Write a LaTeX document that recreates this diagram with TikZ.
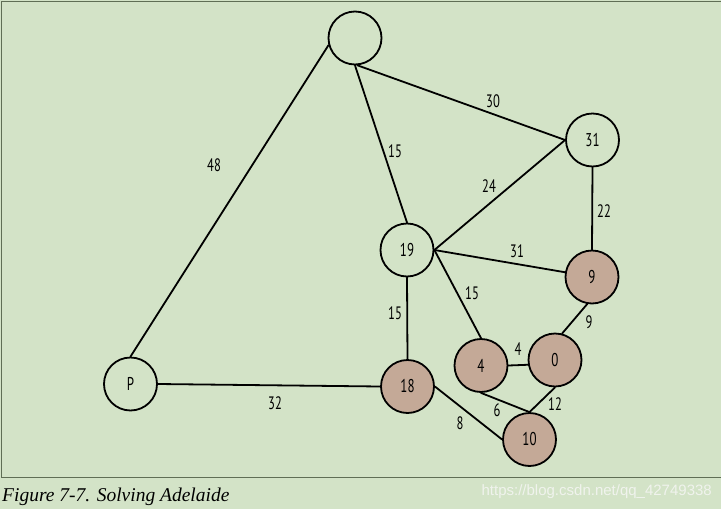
\documentclass[tikz,border=0pt]{standalone}
\usepackage{fontspec}
\setmainfont{Liberation Serif}
\newfontfamily\numfont[FakeStretch=0.7]{PT Sans}
\newfontfamily\wmfont{Liberation Sans}
\definecolor{bgc}{RGB}{211,227,199}
\definecolor{framec}{RGB}{95,110,85}
\definecolor{visited}{RGB}{196,169,151}
\definecolor{wmc}{RGB}{240,243,237}
\begin{document}
\begin{tikzpicture}[x=1pt,y=-1pt,
  vtx/.style={circle,draw=black,line width=1.8pt,minimum size=53pt,inner sep=0pt,
    font=\numfont\fontsize{18.5}{18.5}\selectfont},
  done/.style={vtx,fill=visited},
  edge/.style={line width=1.8pt,line cap=round},
  wt/.style={font=\numfont\fontsize{18}{18}\selectfont,inner sep=0pt}]
\useasboundingbox (0,0) rectangle (721,509);
\fill[bgc] (0,0) rectangle (721,509);
\draw[framec,line width=1pt] (721,1) -- (1,1) -- (1,477) -- (721,477);
% vertices
\node[vtx]  (top) at (355,38)    {};
\node[vtx]  (n31) at (592.5,140) {31};
\node[vtx]  (n19) at (407,250)   {19};
\node[done] (n9)  at (592,277)   {9};
\node[vtx]  (P)   at (130.5,384) {P};
\node[done] (n18) at (407.5,386.5) {18};
\node[done] (n4)  at (481,365.5) {4};
\node[done] (n0)  at (555,360)   {0};
\node[done] (n10) at (529.5,439.5) {10};
% edges
\draw[edge] (top.195) -- (P.north);
\draw[edge] (top.south) -- (n19.north);
\draw[edge] (top.-85) -- (n31.west);
\draw[edge] (n31.west) -- (n19.east);
\draw[edge] (n31.south) -- (n9.north);
\draw[edge] (n19.east) -- (n9.170);
\draw[edge] (n19.east) -- (n4.north);
\draw[edge] (n19.south) -- (n18.north);
\draw[edge] (n9.-100) -- (n0.75);
\draw[edge] (n4.east) -- (n0.190);
\draw[edge] (n4.south) -- (n10.north);
\draw[edge] (n0.south) -- (n10.north);
\draw[edge] (n18.east) -- (n10.west);
\draw[edge] (P.east) -- (n18.west);
% weights
\node[wt] (w48) at (214,165) {48};
\node[wt] (w30) at (493,101) {30};
\node[wt] (w15a) at (395,151) {15};
\node[wt] (w24) at (489,186) {24};
\node[wt] (w22) at (604,211) {22};
\node[wt] (w31) at (517,251) {31};
\node[wt] (w15b) at (472,293) {15};
\node[wt] (w15c) at (395,313) {15};
\node[wt] (w9) at (589,322) {9};
\node[wt] (w4) at (518,349) {4};
\node[wt] (w6) at (497,410) {6};
\node[wt] (w12) at (555,404) {12};
\node[wt] (w32) at (275,403) {32};
\node[wt] (w8) at (460,423) {8};
% caption and watermark
\node[anchor=base west,inner sep=0pt] (cap) at (2,501)
  {\itshape\fontsize{19.5}{19.5}\selectfont Figure 7-7. Solving Adelaide};
\node[anchor=base east,inner sep=0pt,text=wmc] (wm) at (712,495)
  {\wmfont\fontsize{15}{15}\selectfont https://blog.csdn.net/qq\_42749338};
\end{tikzpicture}
\end{document}
